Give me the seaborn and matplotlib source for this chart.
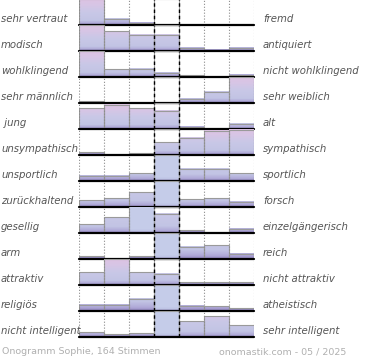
import numpy as np
import pandas as pd
import seaborn as sns
import matplotlib.pyplot as plt
from matplotlib.colors import LinearSegmentedColormap

# Onogramm Sophie - Anteil der Stimmen (%) je Stufe, 7 Stufen pro Zeile
left_labels = ["sehr vertraut", "modisch", "wohlklingend", "sehr männlich", " jung",
               "unsympathisch", "unsportlich", "zurückhaltend", "gesellig", "arm",
               "attraktiv", "religiös", "nicht intelligent"]
right_labels = ["fremd", "antiquiert", "nicht wohlklingend", "sehr weiblich", "alt",
                "sympathisch", "sportlich", "forsch", "einzelgängerisch", "reich",
                "nicht attraktiv", "atheistisch", "sehr intelligent"]
votes = [
    [30, 7, 3, 0, 0, 0, 0],
    [30, 23, 19, 19, 4, 2, 4],
    [30, 9, 10, 5, 2, 0, 3],
    [2, 0, 0, 0, 5, 13, 30],
    [24, 28, 24, 21, 3, 0, 6],
    [3, 0, 2, 15, 20, 28, 29],
    [6, 6, 9, 42, 14, 14, 9],
    [8, 10, 17, 40, 9, 10, 6],
    [10, 18, 42, 22, 3, 0, 5],
    [3, 0, 3, 58, 14, 16, 6],
    [15, 30, 15, 13, 3, 3, 3],
    [7, 7, 14, 58, 6, 5, 3],
    [5, 3, 4, 35, 18, 24, 13],
]
cap = 30

sns.set_style("white")
plt.rcParams['font.family'] = ['DejaVu Sans']
plt.rcParams['image.composite_image'] = False

grad = LinearSegmentedColormap.from_list("onogramm", [
    (0.0, "#9486c2"), (0.07, "#b0aad8"), (0.18, "#c2c4e4"),
    (0.5, "#c9c8e7"), (0.8, "#d8c5e5"), (1.0, "#ddc3e3")])
flat = LinearSegmentedColormap.from_list("over", [
    (0.0, "#a396cc"), (0.07, "#bdc2e4"), (0.15, "#c5cce9"), (1.0, "#c5cce9")])

W, H = 370, 360
row_h = 25.95
fig = plt.figure(figsize=(W / 100, H / 100), dpi=100)

for i, vals in enumerate(votes):
    base = 25.3 + row_h * i
    ax = fig.add_axes([79.3 / W, 1 - base / H, 175 / W, row_h / H])
    df = pd.DataFrame({"stufe": range(7), "anteil": vals})
    ax.axvspan(2.5, 3.5, color="#ececec", zorder=0)
    sns.barplot(data=df, x="stufe", y="anteil", ax=ax, width=1, color="#c5cce9")
    top = max(vals)
    bars = list(ax.patches)
    for p in bars:
        h = p.get_height()
        p.set_facecolor("none")
        p.set_edgecolor("#9a9a9a")
        p.set_linewidth(0.8)
        p.set_zorder(2)
        if h <= 0:
            continue
        x0 = p.get_x()
        x1 = x0 + p.get_width()
        if h > cap:
            ramp = np.linspace(0, 1, 64).reshape(-1, 1)
            cmap = flat
        else:
            ramp = np.linspace(0, h / top, 64).reshape(-1, 1)
            cmap = grad
        ax.imshow(np.repeat(ramp, 2, axis=1), cmap=cmap, vmin=0, vmax=1,
                  origin="lower", aspect="auto", extent=[x0, x1, 0, min(h, cap)],
                  zorder=1, interpolation="nearest")
    for x in [-0.5, 0.5, 1.5, 4.5, 5.5, 6.5]:
        ax.axvline(x, color="#8a8a8a", ls=":", lw=0.8, zorder=3)
    for x in [2.5, 3.5]:
        ax.axvline(x, color="black", ls=(0, (2.5, 2)), lw=1.0, zorder=3)
    ax.axhline(0, color="black", lw=1.6, zorder=4, clip_on=False)
    ax.set_xlim(-0.5, 6.5)
    ax.set_ylim(0, cap)
    ax.set_axis_off()

    ty = 1 - (base - 6) / H
    fig.text(1 / W, ty, left_labels[i], color="#555555", fontsize=7.3,
             style="italic", va="center", ha="left")
    fig.text(263 / W, ty, right_labels[i], color="#555555", fontsize=7.3,
             style="italic", va="center", ha="left")

fig.text(2 / W, 1 - 352 / H, "Onogramm Sophie, 164 Stimmen", color="#b0b0b0",
         fontsize=6.8, va="center", ha="left")
fig.text(346 / W, 1 - 352 / H, "onomastik.com - 05 / 2025", color="#b0b0b0",
         fontsize=6.8, va="center", ha="right")

fig.savefig("out.png", dpi=100)
